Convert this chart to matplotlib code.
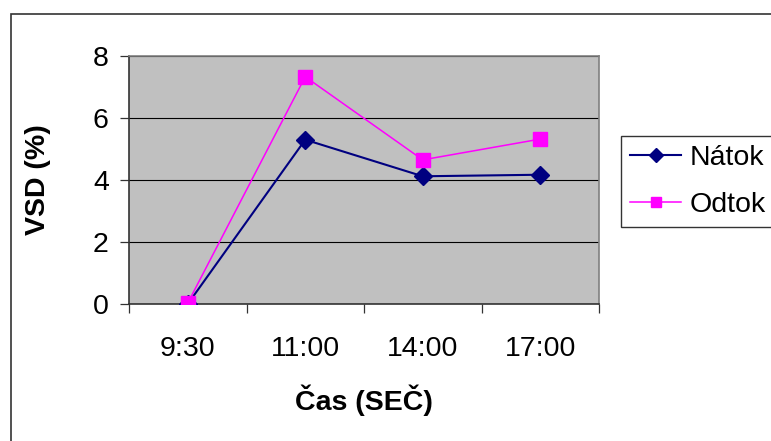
import matplotlib
matplotlib.use("Agg")
import matplotlib.pyplot as plt
from matplotlib.patches import Rectangle
import numpy as np

plt.rcParams['font.family'] = ['Liberation Sans', 'DejaVu Sans']

# Data
times = ["9:30", "11:00", "14:00", "17:00"]
natok = [0.0, 5.3, 4.12, 4.17]
odtok = [0.03, 7.33, 4.65, 5.32]

FS = 20.5

fig = plt.figure(figsize=(7.71, 4.41), dpi=100)

# outer chart frame (runs off the right and bottom edges)
fig.patches.append(Rectangle((11 / 771, -0.1), 1.2, 1 - 14 / 441 + 0.1,
                             transform=fig.transFigure, fill=False,
                             edgecolor="#333333", linewidth=1.2))

ax = fig.add_axes([129 / 771, 1 - 304 / 441, 470 / 771, 248 / 441])
ax.set_facecolor("#C0C0C0")

x = np.arange(len(times)) + 0.5
ax.plot(x, natok, color="#000080", linewidth=1.5, marker="D", markersize=9,
        label="Nátok", zorder=3)
ax.plot(x, odtok, color="#FF00FF", linewidth=1.1, marker="s", markersize=9.5,
        label="Odtok", zorder=4)

ax.set_xlim(0, len(times))
ax.set_ylim(0, 8)
ax.set_yticks([0, 2, 4, 6, 8])
ax.yaxis.grid(True, color="black", linewidth=0.8)
ax.set_axisbelow(True)

ax.set_xticks(x)
ax.set_xticklabels(times)
ax.set_xticks(np.arange(len(times) + 1), minor=True)
ax.tick_params(axis="x", which="major", length=0, pad=23, labelsize=FS)
ax.tick_params(axis="x", which="minor", length=6.5, width=0.9, color="#333333")
ax.tick_params(axis="y", length=6.5, width=0.9, color="#333333", pad=8,
               labelsize=FS)

for side in ["left", "bottom"]:
    ax.spines[side].set_color("#333333")
    ax.spines[side].set_linewidth(1.2)
for side in ["top", "right"]:
    ax.spines[side].set_color("#808080")
    ax.spines[side].set_linewidth(1.2)

ax.set_xlabel("Čas (SEČ)", fontsize=FS, fontweight="bold", labelpad=16)
ax.set_ylabel("VSD (%)", fontsize=FS, fontweight="bold", labelpad=30)

leg = fig.legend(loc="upper left", bbox_to_anchor=(621 / 771, 1 - 136 / 441),
                 fontsize=FS, frameon=True, fancybox=False, edgecolor="black",
                 handlelength=1.8, handletextpad=0.3, borderpad=0.32,
                 labelspacing=0.73, borderaxespad=0, markerscale=0.75)
leg.get_frame().set_linewidth(1.0)

fig.savefig("out.png", dpi=100)
